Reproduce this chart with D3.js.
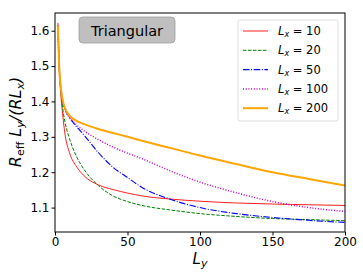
<!DOCTYPE html>
<html>
<head>
<meta charset="utf-8">
<script src="https://d3js.org/d3.v7.min.js"></script>
<style>
body { margin: 0; background: #fff; }
svg { display: block; font-family: 'DejaVu Sans', sans-serif; }
</style>
</head>
<body>
<svg id="chart" width="363" height="273"></svg>
<script>
// Ly values
const ly = [2, 3, 4, 5, 7, 10, 15, 20, 30, 40, 50, 60, 80, 100, 125, 150, 175, 200];

const lx10  = [1.622, 1.49, 1.42, 1.375, 1.305, 1.255, 1.215, 1.19, 1.164, 1.151, 1.141, 1.133, 1.124, 1.118, 1.113, 1.110, 1.108, 1.106];
const lx20  = [1.605, 1.49, 1.43, 1.39, 1.34, 1.295, 1.243, 1.208, 1.162, 1.133, 1.117, 1.106, 1.093, 1.083, 1.075, 1.069, 1.066, 1.063];
const lx50  = [1.615, 1.49, 1.44, 1.405, 1.378, 1.355, 1.328, 1.305, 1.255, 1.214, 1.185, 1.157, 1.123, 1.100, 1.083, 1.072, 1.064, 1.058];
const lx100 = [1.615, 1.49, 1.44, 1.405, 1.375, 1.355, 1.333, 1.317, 1.292, 1.271, 1.254, 1.238, 1.203, 1.172, 1.142, 1.117, 1.100, 1.089];
const lx200 = [1.615, 1.49, 1.44, 1.41, 1.38, 1.36, 1.345, 1.336, 1.322, 1.311, 1.300, 1.289, 1.268, 1.247, 1.223, 1.200, 1.181, 1.1625];

const legendLabels = ['10', '20', '50', '100', '200'];
const xTicks = [0, 50, 100, 150, 200];
const yTicks = [1.1, 1.2, 1.3, 1.4, 1.5, 1.6];

const series = [
  { vals: lx10,  color: '#ff2020', dash: null,            width: 1 },
  { vals: lx20,  color: '#008000', dash: '3.5,1.5',       width: 1 },
  { vals: lx50,  color: '#0000ff', dash: '6.5,1.6,1,1.6', width: 1.1 },
  { vals: lx100, color: '#bf00bf', dash: '1,1.7',         width: 1.5 },
  { vals: lx200, color: '#ffa500', dash: null,            width: 2 }
];

const svg = d3.select('#chart');
const pLeft = 55, pRight = 345, pTop = 13, pBottom = 232;

const x = d3.scaleLinear().domain([0, 200]).range([pLeft, pRight]);
const y = d3.scaleLinear().domain([1.031, 1.650]).range([pBottom, pTop]);

const plot = svg.append('g');
plot.append('clipPath').attr('id', 'clip')
  .append('rect').attr('x', pLeft).attr('y', pTop).attr('width', pRight - pLeft).attr('height', pBottom - pTop);

const line = d3.line()
  .x((d) => x(d[0]))
  .y((d) => y(d[1]))
  .curve(d3.curveMonotoneX);

series.forEach((s) => {
  plot.append('path')
    .attr('clip-path', 'url(#clip)')
    .attr('d', line(ly.map((v, i) => [v, s.vals[i]])))
    .attr('fill', 'none')
    .attr('stroke', s.color)
    .attr('stroke-width', s.width)
    .attr('stroke-dasharray', s.dash);
});

// axes
const xAxis = svg.append('g')
  .attr('transform', `translate(0, ${pBottom})`)
  .call(d3.axisBottom(x).tickValues(xTicks).tickSize(3.5).tickPadding(1.5).tickFormat(d3.format('d')));
const yAxis = svg.append('g')
  .attr('transform', `translate(${pLeft}, 0)`)
  .call(d3.axisLeft(y).tickValues(yTicks).tickSize(3.5).tickPadding(2).tickFormat(d3.format('.1f')));
[xAxis, yAxis].forEach((a) => {
  a.select('.domain').remove();
  a.selectAll('text').attr('font-size', 12).attr('font-family', 'DejaVu Sans').attr('fill', '#000');
  a.selectAll('line').attr('stroke', '#000');
});

svg.append('rect')
  .attr('x', pLeft).attr('y', pTop).attr('width', pRight - pLeft).attr('height', pBottom - pTop)
  .attr('fill', 'none').attr('stroke', '#000').attr('stroke-width', 1);

// title badge
svg.append('rect')
  .attr('x', 79).attr('y', 17).attr('width', 96).attr('height', 26)
  .attr('rx', 4).attr('fill', '#bfbfbf').attr('stroke', '#a0a0a0').attr('stroke-width', 0.8);
svg.append('text')
  .attr('x', 127).attr('y', 35.5).attr('text-anchor', 'middle')
  .attr('font-size', 14.5).text('Triangular');

// legend
const lg = svg.append('g');
lg.append('rect')
  .attr('x', 238).attr('y', 20).attr('width', 100).attr('height', 101)
  .attr('rx', 2).attr('fill', '#fff').attr('stroke', '#d5d5d5').attr('stroke-width', 0.8);
series.forEach((s, i) => {
  const yy = 31 + i * 19.3;
  lg.append('line')
    .attr('x1', 243).attr('x2', 268).attr('y1', yy).attr('y2', yy)
    .attr('stroke', s.color).attr('stroke-width', s.width)
    .attr('stroke-dasharray', s.dash);
  const t = lg.append('text').attr('x', 278).attr('y', yy + 4).attr('font-size', 11.5);
  t.append('tspan').attr('font-style', 'italic').text('L');
  t.append('tspan').attr('font-style', 'italic').attr('font-size', 8).attr('dy', 2).text('x');
  t.append('tspan').attr('dy', -2).text(' = ' + legendLabels[i]);
});

// axis labels
const xl = svg.append('text').attr('x', 200).attr('y', 264).attr('text-anchor', 'middle').attr('font-size', 15);
xl.append('tspan').attr('font-style', 'italic').text('L');
xl.append('tspan').attr('font-style', 'italic').attr('font-size', 11).attr('dy', 3).text('y');

const yl = svg.append('text')
  .attr('transform', 'translate(21, 122) rotate(-90)')
  .attr('text-anchor', 'middle').attr('font-size', 16);
yl.append('tspan').attr('font-style', 'italic').text('R');
yl.append('tspan').attr('font-size', 11).attr('dy', 3).text('eff');
yl.append('tspan').attr('dy', -3).attr('font-style', 'italic').text(' L');
yl.append('tspan').attr('font-style', 'italic').attr('font-size', 11).attr('dy', 3).text('y');
yl.append('tspan').attr('dy', -3).attr('font-style', 'italic').text('/(RL');
yl.append('tspan').attr('font-style', 'italic').attr('font-size', 11).attr('dy', 3).text('x');
yl.append('tspan').attr('dy', -3).attr('font-style', 'italic').text(')');
</script>
</body>
</html>
